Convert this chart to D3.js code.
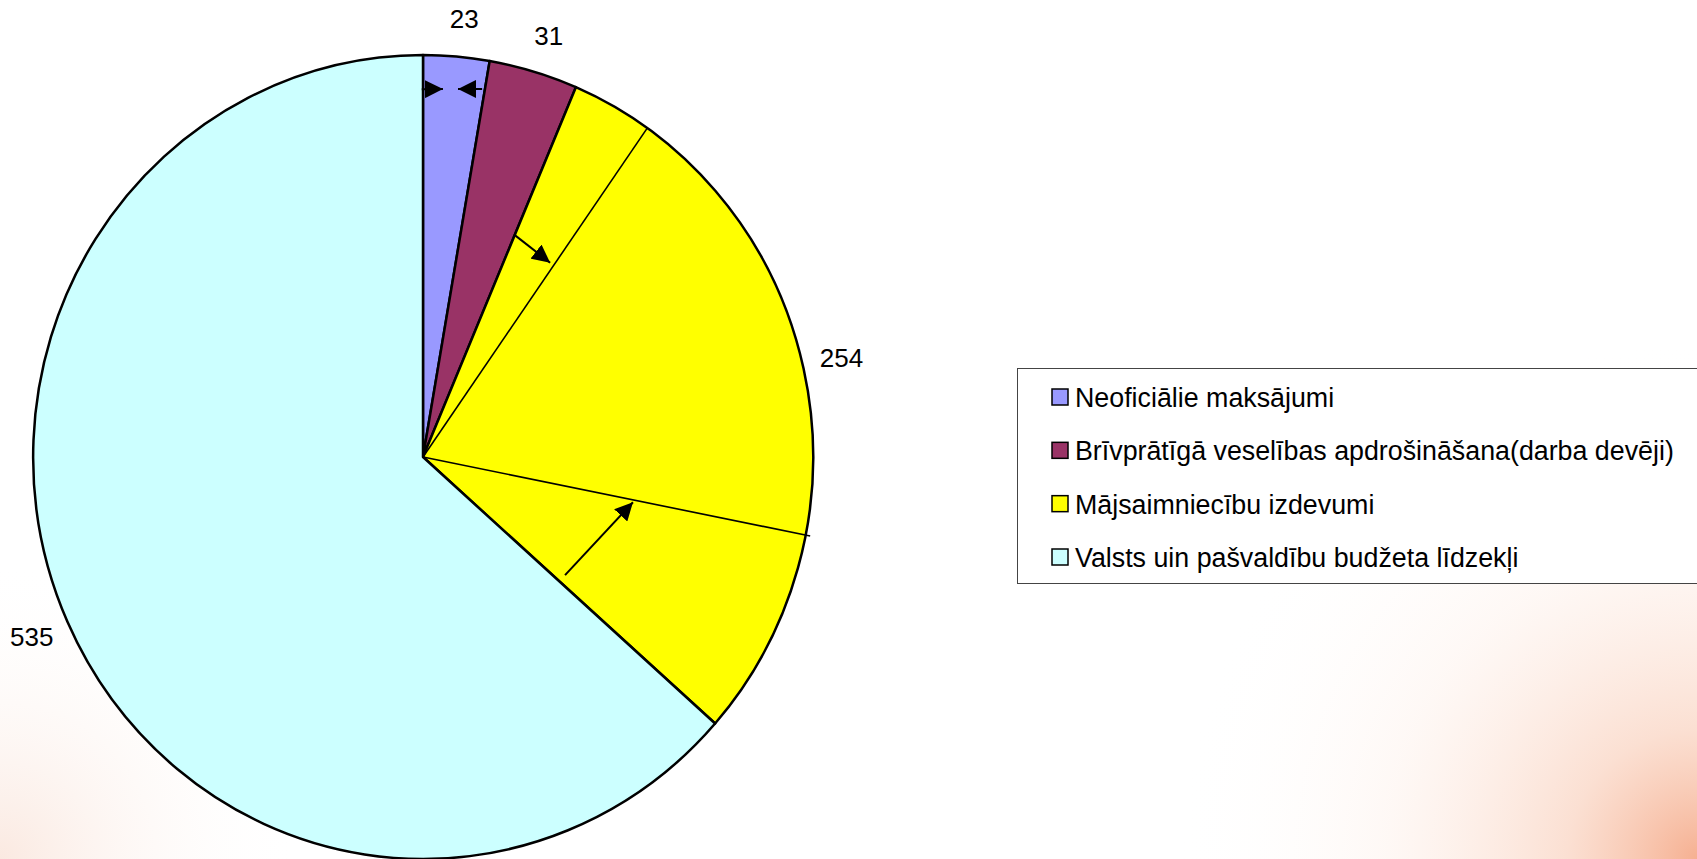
<!DOCTYPE html>
<html>
<head>
<meta charset="utf-8">
<script src="https://cdn.jsdelivr.net/npm/d3@7"></script>
<style>
  html, body { margin: 0; padding: 0; background: #fff; }
  svg { display: block; }
</style>
</head>
<body>
<svg id="chart" width="1697" height="859"></svg>
<script>
// ---- data ----
const categories = [
  "Neoficiālie maksājumi",
  "Brīvprātīgā veselības apdrošināšana(darba devēji)",
  "Mājsaimniecību izdevumi",
  "Valsts uin pašvaldību budžeta līdzekļi"
];
const values = [23, 31, 254, 535];
const colors = ["#9999FF", "#993366", "#FFFF00", "#CCFFFF"];

// annotation elements (angles in degrees clockwise from top, radius as fraction of pie)
const dividerAngles = [35.1, 101.2];
const arrowStarts = [[-0.2, 0.915], [9.4, 0.928], [23.1, 0.600], [128.9, 0.468]];
const arrowEnds   = [[3.2, 0.917], [5.6, 0.920], [34.0, 0.583], [101.8, 0.550]];

// ---- layout ----
const W = 1697, H = 859;
const cx = 423, cy = 457, rx = 390, ry = 402;
const svg = d3.select("#chart");

// background soft glow
const defs = svg.append("defs");
const g1 = defs.append("radialGradient").attr("id", "glow")
  .attr("gradientUnits", "userSpaceOnUse")
  .attr("cx", W).attr("cy", H).attr("r", 520);
g1.append("stop").attr("offset", "0%").attr("stop-color", "#f4a27e").attr("stop-opacity", 0.85);
g1.append("stop").attr("offset", "25%").attr("stop-color", "#f8c6ae").attr("stop-opacity", 0.55);
g1.append("stop").attr("offset", "60%").attr("stop-color", "#fde9df").attr("stop-opacity", 0.3);
g1.append("stop").attr("offset", "100%").attr("stop-color", "#ffffff").attr("stop-opacity", 0);
const g2 = defs.append("radialGradient").attr("id", "glow2")
  .attr("gradientUnits", "userSpaceOnUse")
  .attr("cx", 0).attr("cy", H).attr("r", 300);
g2.append("stop").attr("offset", "0%").attr("stop-color", "#f6d3c2").attr("stop-opacity", 0.5);
g2.append("stop").attr("offset", "100%").attr("stop-color", "#ffffff").attr("stop-opacity", 0);
svg.append("rect").attr("width", W).attr("height", H).attr("fill", "#fff");
svg.append("rect").attr("width", W).attr("height", H).attr("fill", "url(#glow)");
svg.append("rect").attr("width", W).attr("height", H).attr("fill", "url(#glow2)");

defs.append("marker").attr("id", "arrowhead")
  .attr("viewBox", "0 0 10 10").attr("refX", 10).attr("refY", 5)
  .attr("markerWidth", 9).attr("markerHeight", 9).attr("markerUnits", "strokeWidth")
  .attr("orient", "auto")
  .append("path").attr("d", "M0,0 L10,5 L0,10 Z").attr("fill", "#000");

const toRad = d => d * Math.PI / 180;
const pt = (deg, r) => [cx + rx * r * Math.sin(toRad(deg)), cy - ry * r * Math.cos(toRad(deg))];

const pie = d3.pie().sort(null).value(d => d)(values);
const arc = d3.arc().innerRadius(0).outerRadius(1);

const pieG = svg.append("g").attr("transform", `translate(${cx},${cy}) scale(${rx},${ry})`);
pieG.selectAll("path.slice").data(pie).join("path")
  .attr("class", "slice")
  .attr("d", arc)
  .attr("fill", (d, i) => colors[i])
  .attr("stroke", "#000")
  .attr("stroke-width", 2.5)
  .attr("stroke-linejoin", "round")
  .attr("vector-effect", "non-scaling-stroke");

// divider lines
svg.selectAll("line.div").data(dividerAngles).join("line")
  .attr("class", "div")
  .attr("x1", cx).attr("y1", cy)
  .attr("x2", d => pt(d, d > 90 ? 1.012 : 1)[0])
  .attr("y2", d => pt(d, d > 90 ? 1.012 : 1)[1])
  .attr("stroke", "#000").attr("stroke-width", 1.6);

// arrows
svg.selectAll("line.arrow").data(arrowStarts).join("line")
  .attr("class", "arrow")
  .attr("x1", d => pt(d[0], d[1])[0]).attr("y1", d => pt(d[0], d[1])[1])
  .attr("x2", (d, i) => pt(arrowEnds[i][0], arrowEnds[i][1])[0])
  .attr("y2", (d, i) => pt(arrowEnds[i][0], arrowEnds[i][1])[1])
  .attr("stroke", "#000").attr("stroke-width", 2)
  .attr("marker-end", "url(#arrowhead)");

// value labels
const labelAngle = d => (d.startAngle + d.endAngle) / 2 * 180 / Math.PI + (d.index < 2 ? 0.6 : 0);
svg.selectAll("text.val").data(pie).join("text")
  .attr("class", "val")
  .attr("x", d => pt(labelAngle(d), 1.10)[0])
  .attr("y", d => pt(labelAngle(d), 1.10)[1] + (d.index < 2 ? 2 : -2))
  .attr("text-anchor", "middle")
  .attr("dominant-baseline", "central")
  .attr("font-family", "Liberation Sans, Arial, sans-serif")
  .attr("font-size", 26)
  .attr("fill", "#000")
  .text(d => d.data);

// legend
const lg = svg.append("g");
lg.append("rect").attr("x", 1017.5).attr("y", 368.5).attr("width", 700).attr("height", 215)
  .attr("fill", "#fff").attr("stroke", "#444").attr("stroke-width", 1);
const rowY = d3.scalePoint().domain(categories).range([397, 557]);
const items = lg.selectAll("g.item").data(categories).join("g").attr("class", "item");
items.append("rect")
  .attr("x", 1052).attr("y", d => rowY(d) - 8)
  .attr("width", 16).attr("height", 16)
  .attr("fill", (d, i) => colors[i])
  .attr("stroke", "#000").attr("stroke-width", 1.5);
items.append("text")
  .attr("x", 1075).attr("y", d => rowY(d) + 1)
  .attr("dominant-baseline", "central")
  .attr("font-family", "Liberation Sans, Arial, sans-serif")
  .attr("font-size", 26.8)
  .attr("fill", "#000")
  .text(d => d);
</script>
</body>
</html>
